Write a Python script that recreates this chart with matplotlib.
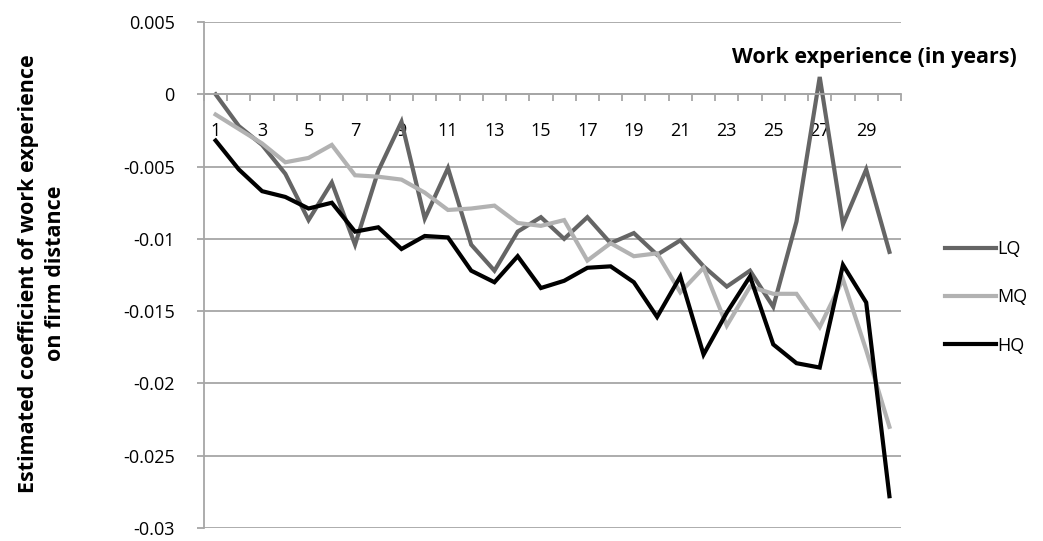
import matplotlib
matplotlib.use('Agg')
import matplotlib.pyplot as plt
from matplotlib.ticker import MultipleLocator, FixedLocator, FuncFormatter

plt.rcParams['font.family'] = ['Open Sans', 'DejaVu Sans']

years = list(range(1, 31))
lq = [0.0, -0.0022, -0.0035, -0.0055, -0.0087, -0.0061, -0.0104, -0.0053, -0.0019, -0.0086,
      -0.0051, -0.0104, -0.0122, -0.0095, -0.0085, -0.0100, -0.0085, -0.0103, -0.0096, -0.0111,
      -0.0101, -0.0119, -0.0133, -0.0122, -0.0147, -0.0088, 0.0012, -0.0090, -0.0052, -0.0109]
mq = [-0.0014, -0.0024, -0.0034, -0.0047, -0.0044, -0.0035, -0.0056, -0.0057, -0.0059, -0.0068,
      -0.0080, -0.0079, -0.0077, -0.0089, -0.0091, -0.0087, -0.0115, -0.0103, -0.0112, -0.0110,
      -0.0137, -0.0120, -0.0160, -0.0133, -0.0138, -0.0138, -0.0161, -0.0128, -0.0177, -0.0230]
hq = [-0.0032, -0.0052, -0.0067, -0.0071, -0.0079, -0.0075, -0.0095, -0.0092, -0.0107, -0.0098,
      -0.0099, -0.0122, -0.0130, -0.0112, -0.0134, -0.0129, -0.0120, -0.0119, -0.0130, -0.0154,
      -0.0126, -0.0180, -0.0151, -0.0126, -0.0173, -0.0186, -0.0189, -0.0118, -0.0144, -0.0278]

grid_col = '#a6a6a6'

fig = plt.figure(figsize=(10.43, 5.41), dpi=100)
ax = fig.add_axes([0.1956, 0.024, 0.6683, 0.9353])

ax.plot(years, lq, color='#656565', linewidth=3, label='LQ', solid_joinstyle='miter')
ax.plot(years, mq, color='#b2b2b2', linewidth=3, label='MQ', solid_joinstyle='miter')
ax.plot(years, hq, color='black', linewidth=3, label='HQ', solid_joinstyle='miter')

ax.set_xlim(0.5, 30.5)
ax.set_ylim(-0.03, 0.005)
ax.yaxis.set_major_locator(MultipleLocator(0.005))
ax.yaxis.set_major_formatter(FuncFormatter(lambda v, p: '0' if abs(v) < 1e-9 else ('%g' % round(v, 3))))
ax.grid(axis='y', color=grid_col, linewidth=1.3)
ax.set_axisbelow(True)

# x axis sits at zero
ax.spines['bottom'].set_position(('data', 0))
for s in ['top', 'right']:
    ax.spines[s].set_visible(False)
ax.spines['bottom'].set_color(grid_col)
ax.spines['left'].set_color(grid_col)
ax.spines['bottom'].set_linewidth(1.3)
ax.spines['left'].set_linewidth(1.3)

ax.xaxis.set_major_locator(FixedLocator(years[::2]))
ax.set_xticklabels([str(y) for y in years[::2]])
ax.xaxis.set_minor_locator(FixedLocator([y + 0.5 for y in range(0, 31)]))
ax.tick_params(axis='x', which='major', length=0, pad=20, labelsize=13)
ax.tick_params(axis='x', which='minor', length=5, color=grid_col, width=1.3, direction='out')
ax.tick_params(axis='y', length=5, color=grid_col, width=1.3, pad=16, labelsize=13)

fig.text(0.838, 1 - 58 / 541, 'Work experience (in years)',
         fontsize=15.5, fontweight='bold', ha='center', va='center')

fig.text(0.04, 0.495, 'Estimated coefficient of work experience\non firm distance',
         rotation=90, ha='center', va='center', fontsize=15.5, fontweight='bold',
         multialignment='center', linespacing=1.35)

ax.legend(loc='center left', bbox_to_anchor=(1.04, 0.456), frameon=False, fontsize=13,
          handlelength=2.8, handletextpad=0.1, labelspacing=1.68)

fig.savefig('out.png', dpi=100)
